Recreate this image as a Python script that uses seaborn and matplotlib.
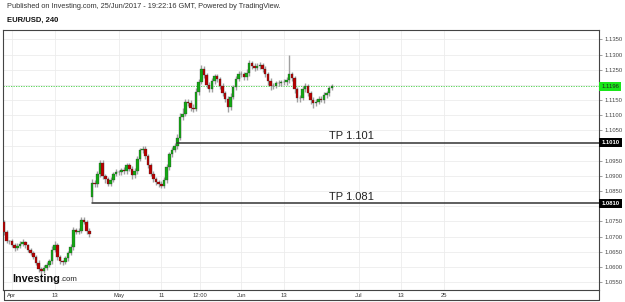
import numpy as np
import pandas as pd
import matplotlib.pyplot as plt
from matplotlib.lines import Line2D
import seaborn as sb

# 12h candles, EUR/USD, starting around 30 Mar 2017 (x in trading days, Apr 3 = 0)
first_open = 1.0748
gap_index = 33          # French election gap on Apr 24
gap_open = 1.0830
closes = [
    1.0715, 1.0685, 1.0684, 1.0672, 1.0663, 1.0670, 1.0676, 1.0681, 1.0672, 1.0656,
    1.0647, 1.0634, 1.0614, 1.0594, 1.0587, 1.0597, 1.0608, 1.0618, 1.0656, 1.0672,
    1.0632, 1.0619, 1.0616, 1.0628, 1.0645, 1.0665, 1.0721, 1.0715, 1.0720, 1.0755,
    1.0748, 1.0720, 1.0707, 1.0877, 1.0872, 1.0907, 1.0943, 1.0900, 1.0889, 1.0875,
    1.0888, 1.0907, 1.0913, 1.0914, 1.0918, 1.0915, 1.0935, 1.0924, 1.0902, 1.0915,
    1.0955, 1.0984, 1.0990, 1.0966, 1.0936, 1.0908, 1.0890, 1.0880, 1.0873, 1.0868,
    1.0885, 1.0928, 1.0971, 1.0986, 1.0998, 1.1025, 1.1094, 1.1105, 1.1145, 1.1140,
    1.1125, 1.1122, 1.1177, 1.1210, 1.1252, 1.1232, 1.1200, 1.1186, 1.1212, 1.1228,
    1.1220, 1.1198, 1.1172, 1.1153, 1.1127, 1.1160, 1.1192, 1.1220, 1.1237, 1.1235,
    1.1226, 1.1240, 1.1271, 1.1262, 1.1256, 1.1263, 1.1264, 1.1252, 1.1235, 1.1212,
    1.1196, 1.1197, 1.1206, 1.1205, 1.1208, 1.1210, 1.1215, 1.1235, 1.1222, 1.1185,
    1.1156, 1.1157, 1.1185, 1.1196, 1.1172, 1.1150, 1.1141, 1.1145, 1.1154, 1.1151,
    1.1166, 1.1172, 1.1190, 1.1196,
]
# wick lengths beyond the body, in pips
up_pips = [
    6, 8, 5, 7, 6, 9, 8, 10, 6, 5, 7, 6, 5, 8, 6, 9, 7, 8, 12, 14,
    6, 7, 5, 9, 8, 10, 12, 8, 9, 11, 8, 6, 7, 12, 10, 9, 10, 8, 7, 9,
    8, 6, 9, 7, 8, 10, 7, 9, 8, 10, 12, 9, 9, 8, 7, 6, 8, 7, 6, 9,
    10, 12, 9, 8, 11, 14, 12, 20, 9, 8, 10, 12, 13, 11, 13, 9, 8, 10, 12, 9,
    8, 7, 9, 8, 10, 12, 9, 11, 10, 8, 9, 12, 10, 9, 11, 8, 10, 7, 9, 8,
    10, 9, 8, 11, 9, 10, 12, 63, 9, 8, 7, 9, 12, 10, 8, 7, 9, 10, 8, 9,
    10, 9, 8, 7,
]
down_pips = [
    9, 7, 8, 6, 10, 7, 8, 6, 9, 8, 7, 9, 8, 10, 12, 8, 7, 9, 8, 7,
    10, 8, 9, 7, 8, 6, 9, 8, 7, 9, 8, 10, 9, 15, 8, 7, 9, 10, 12, 8,
    9, 7, 8, 9, 10, 8, 7, 9, 11, 8, 7, 6, 8, 9, 10, 8, 9, 11, 10, 9,
    8, 7, 9, 8, 7, 9, 8, 10, 9, 11, 12, 10, 8, 9, 7, 8, 11, 9, 8, 10,
    9, 10, 8, 9, 17, 10, 8, 9, 7, 8, 9, 10, 11, 8, 9, 8, 10, 9, 8, 11,
    12, 9, 8, 10, 9, 8, 9, 10, 9, 12, 13, 11, 8, 9, 10, 12, 17, 10, 9, 8,
    9, 8, 9, 7,
]

x_ticks = [0, 8, 20, 28, 35.3, 43, 51, 65, 73, 81]
x_labels = ['Apr', '13', 'May', '11', '12:00', 'Jun', '13', 'Jul', '13', '25']

last_price = 1.1196
tp_levels = [1.1010, 1.0810]
tp_start = [31, 15]
tp_labels = ['TP 1.101', 'TP 1.081']

# build table
opens = [first_open] + closes[:-1]
opens[gap_index] = gap_open
df = pd.DataFrame({'open': opens, 'close': closes, 'up': up_pips, 'down': down_pips})
df['x'] = -1.5 + 0.5 * np.arange(len(df))
df['high'] = df[['open', 'close']].max(axis=1) + df['up'] / 10000
df['low'] = df[['open', 'close']].min(axis=1) - df['down'] / 10000

sb.set_theme(style='white')
plt.rcParams['font.family'] = ['Liberation Sans', 'DejaVu Sans']

fig = plt.figure(figsize=(6.25, 3.02), dpi=100)
ax = fig.add_axes([3 / 625, 12 / 302, 596 / 625, 260 / 302])

# grid
y_ticks = np.round(np.arange(1.0550, 1.13501, 0.005), 4)
ax.set_yticks(y_ticks)
ax.set_yticklabels(['' if v in (1.08, 1.10, 1.12) else f'{v:.4f}' for v in y_ticks])
ax.set_xticks(x_ticks)
ax.set_xticklabels(x_labels)
ax.grid(True, color='#ececec', lw=0.6)
ax.set_axisbelow(True)

# candles
up_mask = df['close'] >= df['open']
colors = np.where(up_mask, '#14a814', '#b80000')
ax.vlines(df['x'], df['low'], df['high'], color='#a0a0a0', lw=1.0, zorder=2)
ax.bar(df['x'], df['close'] - df['open'], bottom=df['open'], width=0.46,
       color=colors, edgecolor='#303030', lw=0.2, zorder=3)

# current price line
ax.axhline(last_price, color='#3ecf3e', lw=0.6, ls=(0, (1.5, 1.5)), zorder=1)

# take-profit lines
for lvl, x0, lab in zip(tp_levels, tp_start, tp_labels):
    ax.plot([x0, 115], [lvl, lvl], color='#333333', lw=1.1, zorder=4)
    ax.text(59.5, lvl + 0.0004, lab, fontsize=8, color='#222222',
            ha='left', va='bottom')

ax.set_xlim(-1.69, 110.1)
ax.set_ylim(1.0524, 1.1381)

ax.yaxis.tick_right()
ax.tick_params(axis='y', length=2.5, width=0.5, color='#777777', pad=1.5,
               labelsize=4.2, labelcolor='#444444', right=True)
ax.tick_params(axis='x', length=0, pad=2, labelsize=4.2, labelcolor='#333333')
for s in ax.spines.values():
    s.set_color('#444444')
    s.set_linewidth(0.8)

# price labels on the axis
trans = ax.get_yaxis_transform()
ax.text(1.004, last_price, f'{last_price:.4f}', transform=trans, fontsize=4.2,
        color='#222222', ha='left', va='center',
        bbox=dict(boxstyle='square,pad=0.35', fc='#19e619', ec='none'))
for lvl in tp_levels:
    ax.text(1.004, lvl, f'{lvl:.4f}', transform=trans, fontsize=4.2,
            color='white', fontweight='bold', ha='left', va='center',
            bbox=dict(boxstyle='square,pad=0.35', fc='black', ec='none'))

# time-axis strip border
W, H = 625, 302
for (x0, y0, x1, y1) in [(3.5, 290, 3.5, 299.5), (3.5, 299.5, 599, 299.5),
                         (599, 290, 599, 299.5)]:
    fig.add_artist(Line2D([x0 / W, x1 / W], [1 - y0 / H, 1 - y1 / H],
                          color='#444444', lw=0.8))

# header
fig.text(7 / W, 1 - 7 / H, 'Published on Investing.com, 25/Jun/2017 - 19:22:16 GMT, '
         'Powered by TradingView.', fontsize=5.3, color='#333333', va='center')
fig.text(7 / W, 1 - 20 / H, 'EUR/USD, 240', fontsize=5.5, fontweight='bold',
         color='#111111', va='center')

# watermark
t1 = ax.text(9 / 596, 0.025, 'Investing', transform=ax.transAxes,
             fontsize=7.8, fontweight='bold', color='#111111', va='bottom')
ax.annotate('.com', xy=(1, 0.08), xycoords=t1, fontsize=5.6, color='#222222',
            va='bottom', ha='left')

fig.savefig('out.png', dpi=100)
